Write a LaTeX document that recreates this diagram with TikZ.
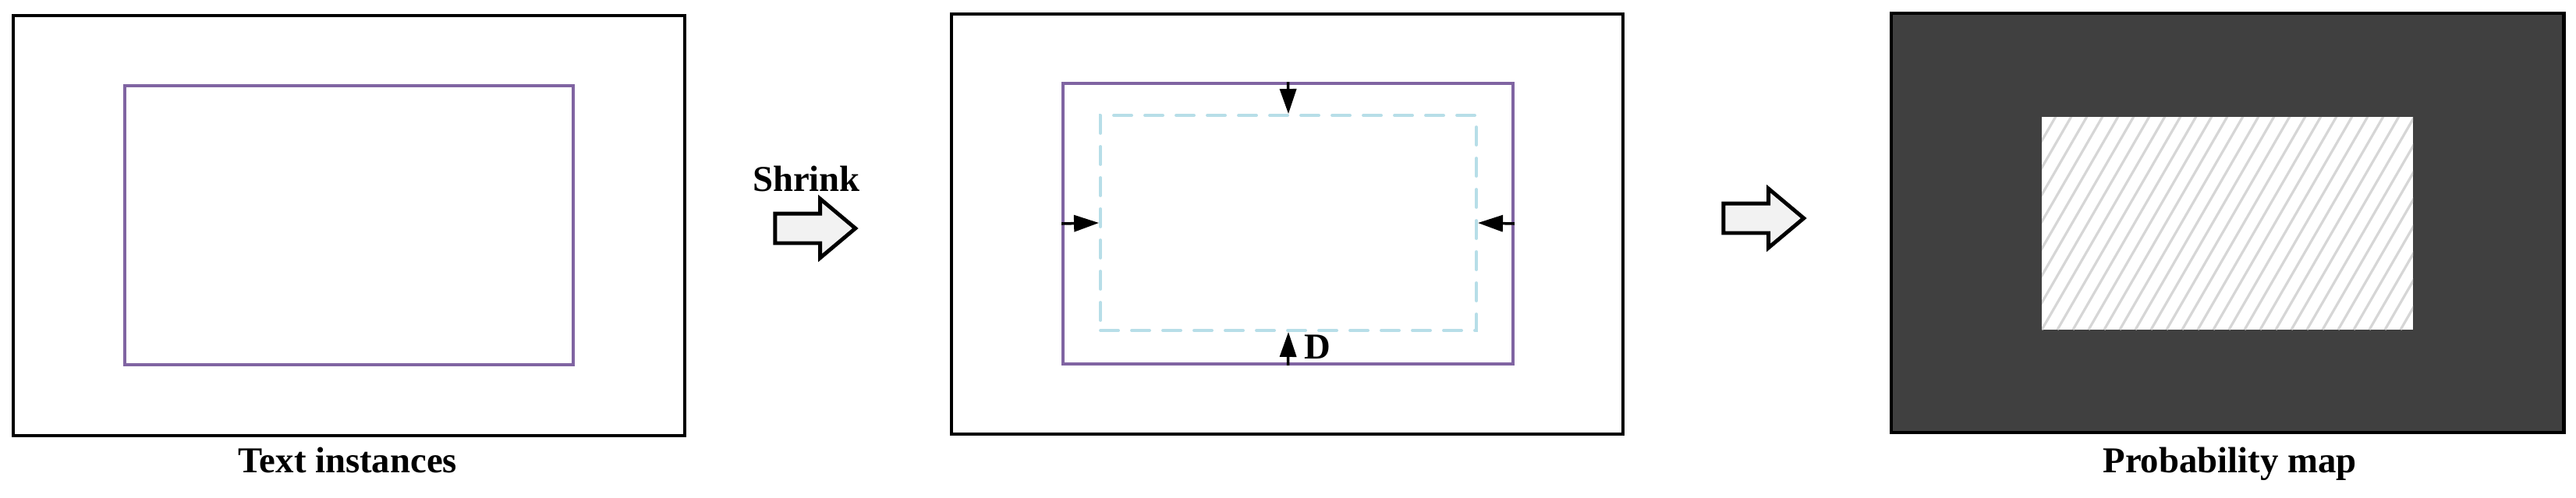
\documentclass[tikz,border=0pt]{standalone}
\usepackage{fontspec}
\setmainfont{Liberation Serif}
\usetikzlibrary{shapes, shapes.arrows}
\usetikzlibrary{arrows, arrows.meta}

\definecolor{instpurple}{HTML}{8064A2}
\definecolor{shrunkblue}{HTML}{B7DEE8}
\definecolor{arrowgray}{HTML}{F2F2F2}
\definecolor{mapdark}{HTML}{404040}
\definecolor{hatchgray}{HTML}{D6D6D6}
\newcommand{\figlabelfont}{\fontsize{13.3}{16}\selectfont\bfseries}

\begin{document}
\begin{tikzpicture}[
    frame/.style = {draw = black, line width = 1.4pt, inner sep = 0,
                    minimum width = 8.61cm, minimum height = 5.39cm},
    instbox/.style = {draw = instpurple, line width = 1.1pt, inner sep = 0},
    shrunkbox/.style = {draw = shrunkblue, line width = 1.1pt, inner sep = 0,
                        dash pattern = on 0.23cm off 0.17cm, line cap = round},
    pushin/.style = {-{Triangle[length = 0.32cm, width = 0.21cm]}, line width = 1pt},
    blockarrow/.style = {single arrow, draw = black, fill = arrowgray, line width = 1.4pt,
                         inner xsep = 0, inner ysep = 0.165cm, minimum height = 1.03cm,
                         single arrow head extend = 0.19cm, single arrow tip angle = 80},
    caption/.style = {font = \figlabelfont, anchor = base, inner sep = 0},
    hatched/.style = {fill = white, inner sep = 0,
                      path picture = {
                          \foreach \k in {-20,...,30}
                              \draw[hatchgray, line width = 0.9pt]
                                  ([xshift = \k*0.2cm]path picture bounding box.south west)
                                  -- ++(60:4cm);
                      }}
]
    \useasboundingbox (0,0) rectangle (33.03,-6.38);

    % text instances
    \node[frame] (frameA) at (4.475,-2.895) {};
    \node[instbox, minimum width = 5.75cm, minimum height = 3.58cm] (instA) at (4.475,-2.89) {};
    \node[caption] (captionA) at (4.46,-6.06) {Text instances};

    % shrink step
    \node[caption] (shrinklabel) at (10.34,-2.45) {Shrink};
    \node[blockarrow] (shrinkarrow) at (10.34,-2.93) {};

    \node[frame] (frameB) at (16.505,-2.875) {};
    \node[instbox, minimum width = 5.77cm, minimum height = 3.60cm] (instB) at (16.515,-2.87) {};
    \node[shrunkbox, minimum width = 4.82cm, minimum height = 2.76cm] (shrunk) at (16.52,-2.86) {};

    \draw[pushin] (instB.north) -- (shrunk.north);
    \draw[pushin] (instB.south) -- (shrunk.south);
    \draw[pushin] (instB.west) -- (shrunk.west);
    \draw[pushin] (instB.east) -- (shrunk.east);
    \node[caption, anchor = base west] (dlabel) at (16.72,-4.60) {D};

    % probability map
    \node[blockarrow] (maparrow) at (22.50,-2.80) {};

    \node[frame, fill = mapdark, minimum width = 8.62cm, minimum height = 5.38cm] (frameC) at (28.56,-2.86) {};
    \node[hatched, minimum width = 4.76cm, minimum height = 2.73cm] (probC) at (28.56,-2.865) {};
    \node[caption] (captionC) at (28.59,-6.06) {Probability map};

\end{tikzpicture}
\end{document}
